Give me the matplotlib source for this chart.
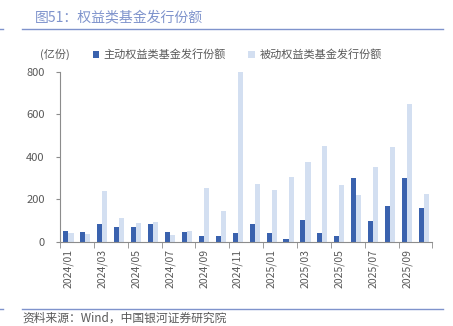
"""
Equity fund issuance shares, active vs passive, monthly bars.
"""

import numpy as np
import matplotlib
matplotlib.use("Agg")
import matplotlib.pyplot as plt
from matplotlib.lines import Line2D

plt.rcParams['font.family'] = ['Noto Sans CJK SC', 'DejaVu Sans']

months = ["2024/01", "2024/02", "2024/03", "2024/04", "2024/05", "2024/06",
          "2024/07", "2024/08", "2024/09", "2024/10", "2024/11", "2024/12",
          "2025/01", "2025/02", "2025/03", "2025/04", "2025/05", "2025/06",
          "2025/07", "2025/08", "2025/09", "2025/10"]
active = [53, 45, 86, 72, 69, 86, 48, 48, 27, 30, 42, 86,
          41, 13, 105, 41, 30, 300, 97, 170, 300, 159]
passive = [41, 37, 239, 114, 89, 95, 34, 53, 252, 147, 800, 273,
           244, 303, 377, 452, 266, 219, 353, 447, 648, 227]

dark_blue = "#3a62ae"
light_blue = "#d3dff1"
line_blue = "#7f93cc"
gray_text = "#595959"
axis_gray = "#8c8c8c"

fig = plt.figure(figsize=(4.53, 3.26), dpi=100)
ax = fig.add_axes([0.1325, 0.258, 0.822, 0.522])

x = np.arange(len(months))
w = 0.3
ax.bar(x - w / 2, active, width=w, color=dark_blue, label="主动权益类基金发行份额")
ax.bar(x + w / 2, passive, width=w, color=light_blue, label="被动权益类基金发行份额")

ax.set_xlim(-0.5, len(months) - 0.5)
ax.set_ylim(0, 800)
ax.set_yticks([0, 200, 400, 600, 800])

# labels every other month, tick marks on the group boundaries
ax.set_xticks(x[::2])
ax.set_xticklabels(months[::2], rotation=90, fontsize=7.5, color=gray_text)
ax.tick_params(axis='x', which='major', length=0, pad=5)
ax.set_xticks(np.arange(-0.5, len(months), 2), minor=True)
ax.tick_params(axis='x', which='minor', length=4, color=axis_gray, direction='out')
ax.tick_params(axis='y', labelsize=8, labelcolor=gray_text, length=3,
               color=axis_gray, pad=8)

for side in ['top', 'right']:
    ax.spines[side].set_visible(False)
for side in ['left', 'bottom']:
    ax.spines[side].set_color(axis_gray)
    ax.spines[side].set_linewidth(0.8)

# title, unit and legend
fig.text(0.077, 0.945, "图51：权益类基金发行份额", fontsize=10, color=line_blue,
         va='center', ha='left')
fig.text(0.122, 0.832, "(亿份)", fontsize=8, color=gray_text, va='center', ha='center')
fig.legend(loc='center left', bbox_to_anchor=(0.192, 0.832), ncol=2,
           frameon=False, fontsize=8, handlelength=0.6, handleheight=0.6,
           handletextpad=0.4, columnspacing=2.0, borderpad=0,
           labelcolor=gray_text)

# page rules
for yy in [1 - 29 / 326, 1 - 309 / 326]:
    fig.add_artist(Line2D([22 / 453, 443 / 453], [yy, yy], color=line_blue, lw=1.0))
    fig.add_artist(Line2D([0, 3 / 453], [yy, yy], color=line_blue, lw=1.0))

fig.text(0.05, 1 - 318.5 / 326, "资料来源：Wind，中国银河证券研究院", fontsize=8.5,
         color=gray_text, va='center', ha='left')

fig.savefig("out.png", dpi=100)
